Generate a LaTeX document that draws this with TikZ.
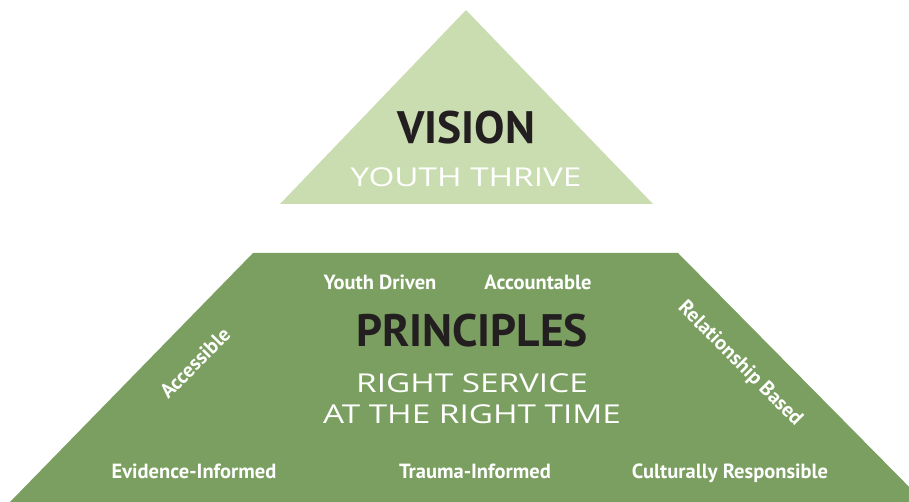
\documentclass[tikz,border=0pt]{standalone}
\usepackage{fontspec}
\setmainfont{PT Sans}
\newfontfamily\handfont{Open Sans}
\definecolor{lightgreen}{HTML}{CADDB1}
\definecolor{darkgreen}{HTML}{7B9F60}
\definecolor{titleblack}{HTML}{231F20}
\tikzset{
  title/.style={font=\fontsize{45.5}{45.5}\selectfont\bfseries, text=titleblack, inner sep=0pt},
  motto/.style={font=\handfont\fontsize{26}{31}\selectfont, text=white, inner sep=0pt, align=center, xscale=1.28},
  value/.style={font=\fontsize{20.5}{20.5}\selectfont\bfseries, text=white, inner sep=0pt},
}
\begin{document}
\begin{tikzpicture}[x=1pt,y=-1pt]
\useasboundingbox (0,0) rectangle (909,502);
% vision triangle
\fill[lightgreen] (466,10) -- (653,204) -- (280,204) -- cycle;
% principles trapezoid
\fill[darkgreen] (253,253) -- (678,253) -- (924,502) -- (10,502) -- cycle;
\node[title] (vision) at (466,128) {VISION};
\node[motto] (thrive) at (466,177) {YOUTH THRIVE};
\node[title] (principles) at (472,331) {PRINCIPLES};
\node[motto] (right) at (472,399) {RIGHT SERVICE\\AT THE RIGHT TIME};
\node[value, anchor=base] (youth) at (380,290) {Youth Driven};
\node[value, anchor=base] (account) at (538,290) {Accountable};
\node[value, rotate=45] (access) at (195,363) {Accessible};
\node[value, rotate=-45] (relation) at (740,364) {Relationship Based};
\node[value, anchor=base] (evidence) at (194,478) {Evidence-Informed};
\node[value, anchor=base] (trauma) at (475,478) {Trauma-Informed};
\node[value, anchor=base] (cultural) at (730,478) {Culturally Responsible};
\end{tikzpicture}
\end{document}
